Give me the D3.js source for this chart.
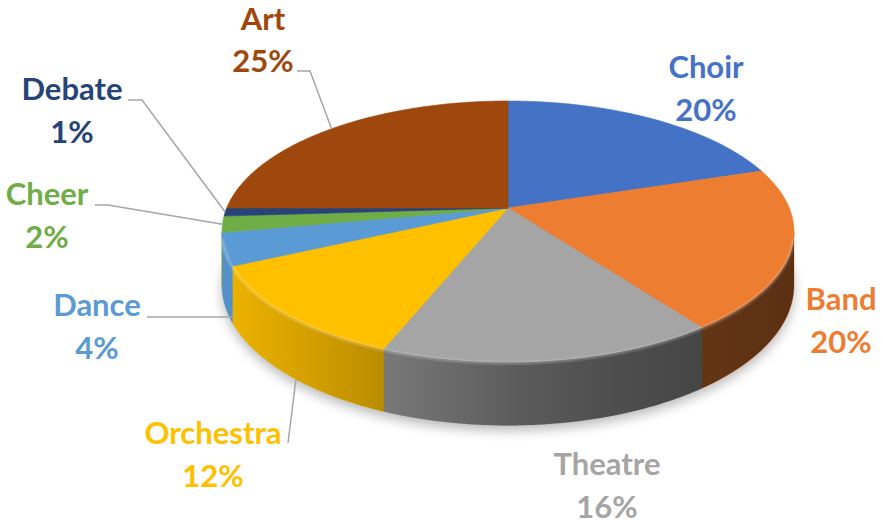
<!DOCTYPE html>
<html>
<head>
<meta charset="utf-8">
<script src="https://cdn.jsdelivr.net/npm/d3@7"></script>
<style>
  html, body { margin: 0; padding: 0; background: #ffffff; }
  svg { display: block; }
  text { font-family: Lato, "Open Sans", sans-serif; font-weight: 700; }
</style>
</head>
<body>
<svg id="chart" width="881" height="524"></svg>
<script>
// ---- data ----
const categories = ["Choir", "Band", "Theatre", "Orchestra", "Dance", "Cheer", "Debate", "Art"];
const values = [20, 20, 16, 12, 4, 2, 1, 25];
const percentLabels = ["20%", "20%", "16%", "12%", "4%", "2%", "1%", "25%"];
const colors = ["#4472C4", "#ED7D31", "#A5A5A5", "#FFC000", "#5B9BD5", "#70AD47", "#264478", "#9E480E"];

// ---- layout (geometry of the 3D pie) ----
const cx = 508, cy = 208;       // projected centre of the top face
const RX = 281.3, RY = 126.3;   // radii before perspective
const persp = 0.18;             // perspective strength
const depth = 52;               // thickness of the slab

// label placement (text anchors) and leader lines
const labelPos = [
  { x: 706, y: 78 },  { x: 841, y: 310 }, { x: 607, y: 475 }, { x: 213, y: 444 },
  { x: 97, y: 316 },  { x: 47, y: 205 },  { x: 72, y: 100 },  { x: 263, y: 30 }
];
const lineGap = [43, 43, 43, 43, 43, 43, 43, 42];
const leaders = [
  null, null, null,
  { start: [288, 443], elbow: null, at: 0.44, z: 1.0 },
  { start: [147, null], elbow: null, at: 0.0, z: 0.9 },
  { start: [95, 205], elbow: [108, 205], at: 0.5, z: 0 },
  { start: [128, 100], elbow: [142, 100], at: 0.5, z: 0 },
  { start: [297, 71], elbow: [310, 71], at: 0.5, z: 0 }
];

const svg = d3.select("#chart");
const xs = d3.scaleLinear().domain([-1, 1]).range([cx - RX, cx + RX]);
const ys = d3.scaleLinear().domain([-1, 1]).range([cy - RY, cy + RY]);

function proj(a, z) {
  const u = Math.sin(a), v = -Math.cos(a), w = 1 - persp * v;
  return [xs(u / w), ys((v + (depth / RY) * z) / w)];
}

const pie = d3.pie().sort(null).value(d => d);
const arcs = pie(values);

function samples(a0, a1) {
  const n = Math.max(2, Math.ceil(Math.abs(a1 - a0) / (Math.PI / 360)));
  return d3.range(n + 1).map(i => a0 + (a1 - a0) * i / n);
}
const line = d3.line();

// visible side range (between silhouette tangent points)
const aL = Math.acos(-persp), aR = 2 * Math.PI - aL;

const defs = svg.append("defs");
defs.append("filter").attr("id", "shadowBlur").attr("x", "-20%").attr("y", "-20%").attr("width", "140%").attr("height", "140%")
  .append("feGaussianBlur").attr("stdDeviation", 6);
defs.append("filter").attr("id", "softBlur")
  .append("feGaussianBlur").attr("stdDeviation", 0.8);

const grad = defs.append("linearGradient").attr("id", "sideShade")
  .attr("gradientUnits", "userSpaceOnUse")
  .attr("x1", cx - RX - 8).attr("x2", cx + RX + 12).attr("y1", 0).attr("y2", 0);
[[0, 0.06], [0.13, 0.15], [0.28, 0.27], [0.52, 0.45], [0.66, 0.52], [0.83, 0.58], [1, 0.62]]
  .forEach(([o, op]) => grad.append("stop").attr("offset", o).attr("stop-color", "#000").attr("stop-opacity", op));

// shadow
const bottomAll = samples(0, 2 * Math.PI).map(a => { const p = proj(a, 1); return [p[0], p[1] + 5]; });
svg.append("path").attr("d", line(bottomAll) + "Z")
  .attr("fill", "#000").attr("opacity", 0.28).attr("filter", "url(#shadowBlur)");

// sides
const sideG = svg.append("g");
arcs.forEach((d, i) => {
  const s = Math.max(d.startAngle, aL), e = Math.min(d.endAngle, aR);
  if (e <= s) return;
  const top = samples(s, e).map(a => proj(a, 0));
  const bot = samples(s, e).reverse().map(a => proj(a, 1));
  sideG.append("path").attr("d", line(top.concat(bot)) + "Z")
    .attr("fill", colors[i]).attr("stroke", colors[i]).attr("stroke-width", 0.5);
});
{
  const top = samples(aL, aR).map(a => proj(a, 0));
  const bot = samples(aL, aR).reverse().map(a => proj(a, 1));
  sideG.append("path").attr("d", line(top.concat(bot)) + "Z").attr("fill", "url(#sideShade)");
}

// top faces
const topG = svg.append("g");
arcs.forEach((d, i) => {
  const pts = [[cx, cy]].concat(samples(d.startAngle, d.endAngle).map(a => proj(a, 0)));
  topG.append("path").attr("d", line(pts) + "Z")
    .attr("fill", colors[i]).attr("stroke", colors[i]).attr("stroke-width", 0.6).attr("stroke-linejoin", "round");
});

// bevel highlight along the front edge
svg.append("path").attr("d", line(samples(aL + 0.05, aR - 0.05).map(a => { const p = proj(a, 0); return [p[0], p[1] + 1]; })))
  .attr("fill", "none").attr("stroke", "#fff").attr("stroke-opacity", 0.35).attr("stroke-width", 2)
  .attr("filter", "url(#softBlur)");

// leader lines
const leaderG = svg.append("g");
arcs.forEach((d, i) => {
  const L = leaders[i];
  if (!L) return;
  const a = d.startAngle + (d.endAngle - d.startAngle) * L.at;
  const end = proj(a, L.z);
  const pts = [];
  pts.push([L.start[0], L.start[1] == null ? end[1] : L.start[1]]);
  if (L.elbow) pts.push(L.elbow);
  pts.push(end);
  leaderG.append("path").attr("d", line(pts)).attr("fill", "none")
    .attr("stroke", "#A6A6A6").attr("stroke-width", 1.5);
});

// labels
const labelG = svg.append("g");
arcs.forEach((d, i) => {
  const t = labelG.append("text").attr("text-anchor", "middle")
    .attr("fill", colors[i]).attr("font-size", 31);
  t.append("tspan").attr("x", labelPos[i].x).attr("y", labelPos[i].y).text(categories[i]);
  t.append("tspan").attr("x", labelPos[i].x).attr("y", labelPos[i].y + lineGap[i]).text(percentLabels[i]);
});
</script>
</body>
</html>
